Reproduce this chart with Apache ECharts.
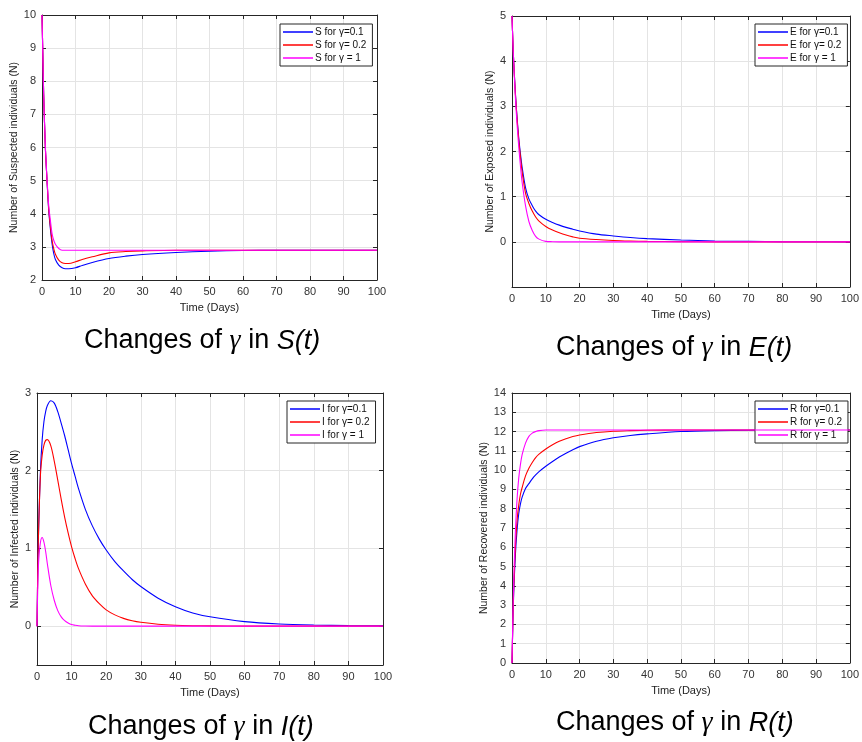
<!DOCTYPE html>
<html>
<head>
<meta charset="utf-8">
<script src="https://cdn.jsdelivr.net/npm/echarts@6/dist/echarts.min.js"></script>
<style>
  html, body { margin: 0; padding: 0; background: #fff; }
  #main { width: 862px; height: 742px; }
</style>
</head>
<body>
<div id="main"></div>
<script>
// time points (days)
var tS = [0, 0.25, 0.5, 1, 1.5, 2, 2.5, 3, 3.5, 4, 5, 6, 7, 8, 10, 12, 15, 20, 25, 30, 40, 50, 60, 70, 80, 90, 100];
var sG01 = [10, 8.8, 7.6, 6.0, 5.0, 4.1, 3.55, 3.1, 2.8, 2.62, 2.45, 2.37, 2.34, 2.34, 2.37, 2.44, 2.53, 2.65, 2.72, 2.77, 2.83, 2.87, 2.89, 2.9, 2.9, 2.9, 2.9];
var sG02 = [10, 8.8, 7.6, 6.0, 5.0, 4.15, 3.62, 3.2, 2.95, 2.78, 2.6, 2.52, 2.5, 2.5, 2.55, 2.62, 2.7, 2.82, 2.86, 2.88, 2.9, 2.9, 2.9, 2.9, 2.9, 2.9, 2.9];
var sG1 = [10, 8.8, 7.6, 6.05, 5.05, 4.25, 3.8, 3.4, 3.2, 3.08, 2.95, 2.9, 2.9, 2.9, 2.9, 2.9, 2.9, 2.9, 2.9, 2.9, 2.9, 2.9, 2.9, 2.9, 2.9, 2.9, 2.9];

var tE = [0, 0.25, 0.5, 1, 1.5, 2, 2.5, 3, 4, 5, 6, 7, 8, 10, 12, 14, 16, 18, 20, 25, 30, 35, 40, 50, 60, 70, 80, 90, 100];
var eG01 = [5, 4.45, 4.0, 3.3, 2.75, 2.3, 1.95, 1.65, 1.2, 0.95, 0.8, 0.68, 0.6, 0.5, 0.43, 0.37, 0.32, 0.28, 0.24, 0.17, 0.13, 0.095, 0.07, 0.04, 0.02, 0.01, 0.005, 0.002, 0];
var eG02 = [5, 4.45, 4.0, 3.28, 2.72, 2.25, 1.88, 1.55, 1.08, 0.85, 0.68, 0.55, 0.46, 0.34, 0.26, 0.2, 0.15, 0.11, 0.08, 0.05, 0.03, 0.018, 0.01, 0.004, 0, 0, 0, 0, 0];
var eG1 = [5, 4.45, 3.98, 3.2, 2.6, 2.1, 1.68, 1.32, 0.8, 0.45, 0.25, 0.12, 0.06, 0.01, 0.003, 0, 0, 0, 0, 0, 0, 0, 0, 0, 0, 0, 0, 0, 0];

var tI = [0, 0.25, 0.5, 1, 1.5, 2, 2.5, 3, 4, 5, 6, 7, 8, 9, 10, 11, 12, 14, 16, 18, 20, 22.5, 25, 27.5, 30, 35, 40, 45, 50, 60, 70, 80, 90, 100];
var iG01 = [0, 0.8, 1.3, 2.0, 2.4, 2.63, 2.76, 2.84, 2.9, 2.87, 2.76, 2.61, 2.45, 2.27, 2.09, 1.93, 1.77, 1.5, 1.29, 1.12, 0.98, 0.83, 0.71, 0.6, 0.51, 0.36, 0.25, 0.17, 0.12, 0.058, 0.028, 0.014, 0.007, 0.003];
var iG02 = [0, 0.8, 1.3, 1.95, 2.2, 2.33, 2.39, 2.4, 2.32, 2.12, 1.88, 1.63, 1.4, 1.2, 1.02, 0.87, 0.74, 0.54, 0.39, 0.29, 0.21, 0.145, 0.1, 0.07, 0.05, 0.025, 0.012, 0.006, 0.003, 0, 0, 0, 0, 0];
var iG1 = [0, 0.55, 0.85, 1.08, 1.14, 1.08, 0.96, 0.8, 0.52, 0.33, 0.2, 0.12, 0.07, 0.04, 0.02, 0.012, 0.006, 0.002, 0, 0, 0, 0, 0, 0, 0, 0, 0, 0, 0, 0, 0, 0, 0, 0];

var tR = [0, 0.25, 0.5, 1, 1.5, 2, 2.5, 3, 4, 5, 6, 7, 8, 10, 12, 14, 16, 18, 20, 25, 30, 35, 40, 50, 60, 70, 80, 90, 100];
var rG01 = [0, 2.0, 3.6, 5.6, 6.9, 7.75, 8.25, 8.6, 9.05, 9.3, 9.55, 9.75, 9.92, 10.2, 10.45, 10.68, 10.88, 11.06, 11.22, 11.5, 11.68, 11.8, 11.88, 12.0, 12.05, 12.07, 12.08, 12.08, 12.08];
var rG02 = [0, 2.1, 3.8, 6.0, 7.4, 8.2, 8.75, 9.1, 9.7, 10.1, 10.4, 10.65, 10.83, 11.1, 11.32, 11.5, 11.63, 11.74, 11.82, 11.95, 12.02, 12.05, 12.07, 12.08, 12.08, 12.08, 12.08, 12.08, 12.08];
var rG1 = [0, 2.3, 4.2, 6.8, 8.5, 9.6, 10.3, 10.8, 11.4, 11.75, 11.92, 12.0, 12.05, 12.08, 12.08, 12.08, 12.08, 12.08, 12.08, 12.08, 12.08, 12.08, 12.08, 12.08, 12.08, 12.08, 12.08, 12.08, 12.08];

var iTicks = [0, 1, 2, 3];

var colors = { g01: '#0000ff', g02: '#ff0000', g1: '#ff00ff' };
var axisCol = '#262626';
var gridCol = '#e4e4e4';
var font = 'Liberation Sans, Arial, sans-serif';

var chart = echarts.init(document.getElementById('main'));

function pairs(t, v) {
  return t.map(function (x, k) { return [x, v[k]]; });
}

// panel boxes
var grids = [
  { left: 42, top: 15, width: 335, height: 265 },
  { left: 512, top: 16, width: 342, height: 271 },
  { left: 37, top: 393, width: 346, height: 272 },
  { left: 512, top: 393, width: 342, height: 270 }
];

var yNames = [
  'Number of Suspected individuals (N)',
  'Number of Exposed individuals (N)',
  'Number of Infected individuals (N)',
  'Number of Recovered individuals (N)'
];
var yRanges = [
  { min: 2, max: 10, interval: 1 },
  { min: -1, max: 5, interval: 1 },
  { min: -0.5, max: 3 },
  { min: 0, max: 14, interval: 1 }
];
var yGaps = [18, 10, 12, 16];

var xAxes = [], yAxes = [];
grids.forEach(function (g, k) {
  xAxes.push({
    gridIndex: k, type: 'value', min: 0, max: 100, interval: 10,
    name: 'Time (Days)', nameLocation: 'middle', nameGap: 22,
    nameTextStyle: { fontFamily: font, fontSize: 11, color: '#222' },
    axisLine: { onZero: false, lineStyle: { color: axisCol } },
    axisTick: { inside: true, length: 4, lineStyle: { color: axisCol } },
    axisLabel: { fontFamily: font, fontSize: 11, color: '#333', margin: 6 },
    splitLine: { show: true, lineStyle: { color: gridCol } }
  });
  xAxes.push({
    gridIndex: k, type: 'value', min: 0, max: 100, interval: 10, position: 'top',
    axisLine: { onZero: false, lineStyle: { color: axisCol } },
    axisTick: { inside: true, length: 4, lineStyle: { color: axisCol } },
    axisLabel: { show: false }, splitLine: { show: false }
  });
  var r = yRanges[k];
  var left = {
    gridIndex: k, type: 'value', min: r.min, max: r.max,
    name: yNames[k], nameLocation: 'middle', nameGap: yGaps[k],
    nameTextStyle: { fontFamily: font, fontSize: 10.5, color: '#222' },
    axisLine: { show: true, onZero: false, lineStyle: { color: axisCol } },
    axisTick: { show: true, inside: true, length: 4, lineStyle: { color: axisCol } },
    axisLabel: {
      fontFamily: font, fontSize: 11, color: '#333', margin: 6,
      formatter: function (v) { return v < 0 ? '' : String(v); }
    },
    splitLine: { show: true, lineStyle: { color: gridCol } }
  };
  var right = {
    gridIndex: k, type: 'value', min: r.min, max: r.max, position: 'right',
    axisLine: { show: true, onZero: false, lineStyle: { color: axisCol } },
    axisTick: { show: true, inside: true, length: 4, lineStyle: { color: axisCol } },
    axisLabel: { show: false }, splitLine: { show: false }
  };
  if (r.interval) {
    left.interval = r.interval;
    right.interval = r.interval;
  } else {
    left.axisLabel.customValues = iTicks;
    left.axisTick.customValues = iTicks;
    right.axisTick.customValues = iTicks;
  }
  yAxes.push(left, right);
});

var panels = [
  { p: 'S', t: tS, v: [sG01, sG02, sG1] },
  { p: 'E', t: tE, v: [eG01, eG02, eG1] },
  { p: 'I', t: tI, v: [iG01, iG02, iG1] },
  { p: 'R', t: tR, v: [rG01, rG02, rG1] }
];
var suffix = ['\u03b3=0.1', '\u03b3= 0.2', '\u03b3 = 1'];
var cols = [colors.g01, colors.g02, colors.g1];

var series = [], legends = [];
panels.forEach(function (pn, k) {
  var names = [];
  pn.v.forEach(function (vals, j) {
    var nm = pn.p + ' for ' + suffix[j];
    names.push(nm);
    series.push({
      name: nm, type: 'line', xAxisIndex: 2 * k, yAxisIndex: 2 * k,
      data: pairs(pn.t, vals), symbol: 'none', smooth: 0.3,
      lineStyle: { width: 1.1, color: cols[j] }, itemStyle: { color: cols[j] },
      z: 2 + j
    });
  });
  legends.push(names);
});

var legendPos = [
  { left: 280, top: 24 },
  { left: 755, top: 24 },
  { left: 287, top: 401 },
  { left: 755, top: 401 }
];

var legendList = legends.map(function (names, k) {
  return {
    data: names, orient: 'vertical', left: legendPos[k].left, top: legendPos[k].top,
    icon: 'rect', itemWidth: 30, itemHeight: 1.5, itemGap: 3, padding: [3, 6, 3, 3],
    backgroundColor: '#fff', borderColor: axisCol, borderWidth: 1, borderRadius: 0,
    selectedMode: false,
    textStyle: { fontFamily: font, fontSize: 10, color: '#111', padding: [0, 0, 0, -3] }
  };
});

var captionRich = {
  n: { fontFamily: font, fontWeight: 'normal', fontSize: 27, color: '#000' },
  g: { fontFamily: 'Liberation Serif, serif', fontStyle: 'italic', fontWeight: 'normal', fontSize: 28, color: '#000' },
  i: { fontFamily: font, fontStyle: 'italic', fontWeight: 'normal', fontSize: 27, color: '#000' }
};
var captions = [
  { f: 'S(t)', left: 84, top: 327 },
  { f: 'E(t)', left: 556, top: 334 },
  { f: 'I(t)', left: 88, top: 713 },
  { f: 'R(t)', left: 556, top: 709 }
];

var option = {
  animation: false,
  backgroundColor: '#fff',
  title: captions.map(function (c) {
    return {
      text: '{n|Changes of }{g|\u03b3}{n| in }{i|' + c.f + '}',
      left: c.left, top: c.top, padding: 0,
      textStyle: { fontWeight: 'normal', rich: captionRich }
    };
  }),
  legend: legendList,
  grid: grids,
  xAxis: xAxes,
  yAxis: yAxes,
  series: series
};

chart.setOption(option);
window.addEventListener('resize', function () { chart.resize(); });
</script>
</body>
</html>
